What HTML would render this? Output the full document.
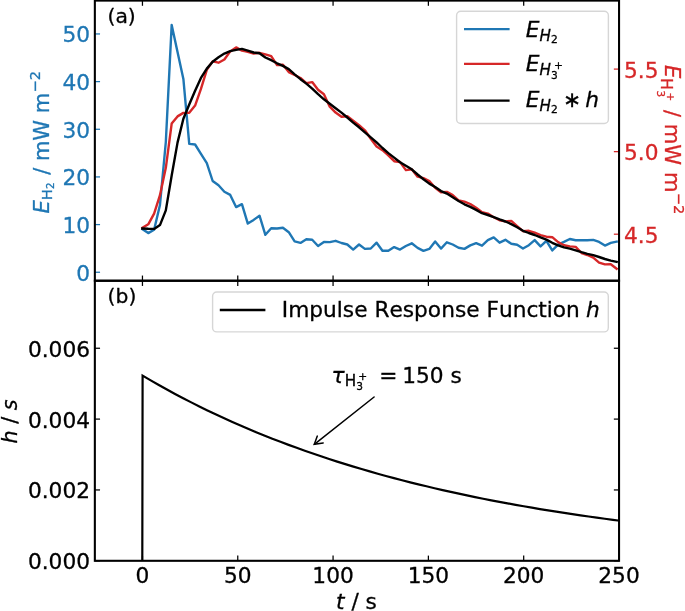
<!DOCTYPE html>
<html lang="en"><head><meta charset="utf-8"><title>Figure</title>
<style>html,body{margin:0;padding:0;background:#fff}body{width:685px;height:611px;overflow:hidden}</style></head>
<body>
<svg width="685" height="611" viewBox="0 0 685 611" style="display:block">
<defs><clipPath id="c1"><rect x="94.85" y="0.6" width="524.2" height="280.15"/></clipPath>
<clipPath id="c2"><rect x="94.85" y="280.75" width="524.2" height="280.05"/></clipPath></defs>
<rect width="685" height="611" fill="#fff"/>
<g clip-path="url(#c1)" fill="none" stroke-width="2.4" stroke-linejoin="round" stroke-linecap="square">
<polyline stroke="#1f77b4" points="142.4,229.1 148.25,233.1 154.11,229.8 159.97,205 165.82,142 171.68,24.9 177.53,51.9 183.38,78.9 189.24,143.9 195.1,144.5 200.95,153.8 206.81,163.1 212.66,181 218.52,185.3 224.37,191.7 230.23,194.9 236.08,207.1 241.94,204.2 247.79,223.6 253.65,219.9 259.5,215.7 265.36,234.8 271.21,228.2 277.07,228.5 282.92,227.7 288.77,232.2 294.63,241.4 300.49,242.9 306.34,239.3 312.2,239.8 318.05,246 323.91,242 329.76,242.1 335.62,240.8 341.47,243 347.33,244.5 353.18,249.6 359.04,244.5 364.89,248.9 370.75,248.5 376.6,242.7 382.46,250.8 388.31,250.8 394.17,247.1 400.02,249.6 405.88,246 411.73,243.3 417.59,247.9 423.44,250.8 429.3,248.9 435.15,241.5 441,248.6 446.86,242.3 452.72,244.5 458.57,247.7 464.43,248.9 470.28,245.4 476.13,243.2 481.99,245.7 487.85,240.1 493.7,237.4 499.56,242.7 505.41,239.8 511.26,243.8 517.12,244.8 522.98,248.5 528.83,245.2 534.69,240.1 540.54,246.4 546.39,240.8 552.25,250.4 558.11,244.6 563.96,241.9 569.82,239 575.67,240.2 581.53,240.3 587.38,240.3 593.24,239.9 599.09,241.9 604.95,245.6 610.8,242.9 616.66,241.6"/>
<polyline stroke="#d62728" points="142.4,227.8 148.25,224.3 154.11,213.6 159.97,195.2 165.82,167.8 171.68,123.6 177.53,116.4 183.38,112.9 189.24,112.7 195.1,105.6 200.95,88.9 206.81,69.8 212.66,61.4 218.52,62.7 224.37,59.5 230.23,51.4 236.08,47.4 241.94,50.6 247.79,51.8 253.65,53.6 259.5,52.8 265.36,54.3 271.21,56.2 277.07,65.1 282.92,64.7 288.77,72.1 294.63,75 300.49,78 306.34,83.1 312.2,82.1 318.05,89.8 323.91,94.2 329.76,106.7 335.62,112.6 341.47,116.7 347.33,116.3 353.18,120.7 359.04,125.1 364.89,130.3 370.75,138.8 376.6,146.5 382.46,150.2 388.31,155.3 394.17,161.2 400.02,162 405.88,170.1 411.73,169.3 417.59,176.7 423.44,178.2 429.3,181.1 435.15,187.7 441,192.2 446.86,191.9 452.72,195.1 458.57,200.3 464.43,201.7 470.28,204 476.13,207.7 481.99,212.1 487.85,213.6 493.7,217.2 499.56,220.2 505.41,221.4 511.26,220.9 517.12,226.1 522.98,231.2 528.83,230.8 534.69,232.7 540.54,235.2 546.39,236.7 552.25,237.2 558.11,242.1 563.96,245.2 569.82,246.4 575.67,246.9 581.53,253 587.38,255 593.24,257.6 599.09,262.6 604.95,264.4 610.8,264.2 616.66,268.7"/>
<polyline stroke="#000" points="142.4,228.5 148.25,228.8 154.11,228.9 159.97,225.1 165.82,210.4 171.68,175.5 177.53,142.6 183.38,118.8 189.24,104.5 195.1,90.8 200.95,77.9 206.81,68.6 212.66,61.7 218.52,57.2 224.37,53.6 230.23,51.1 236.08,49.9 241.94,48.9 247.79,50.6 253.65,52.5 259.5,53.3 265.36,57.5 271.21,60.2 277.07,63.3 282.92,65.9 288.77,69.1 294.63,74.3 300.49,79.2 306.34,83.6 312.2,88.6 318.05,94.2 323.91,99.3 329.76,103.8 335.62,108.2 341.47,112.6 347.33,117.5 353.18,122.6 359.04,127.3 364.89,132.3 370.75,137.3 376.6,142.4 382.46,148 388.31,153.1 394.17,157.6 400.02,162.3 405.88,165.7 411.73,169.3 417.59,174.5 423.44,179.2 429.3,183.6 435.15,187 441,191.1 446.86,193.6 452.72,197.3 458.57,201 464.43,204.3 470.28,206.9 476.13,209.9 481.99,213.2 487.85,215 493.7,217.1 499.56,219.4 505.41,221.5 511.26,224.1 517.12,227.3 522.98,230.8 528.83,233 534.69,235 540.54,237.4 546.39,239.6 552.25,242.8 558.11,245.4 563.96,247.4 569.82,248.6 575.67,250.3 581.53,252.2 587.38,253.8 593.24,255.2 599.09,257 604.95,259 610.8,260.6 616.66,261.9"/>
</g>
<g clip-path="url(#c2)" fill="none" stroke="#000" stroke-width="2.2" stroke-linejoin="miter" stroke-linecap="square">
<polyline points="142.3,560.8 142.6,375.6 150.71,380.36 158.82,384.99 166.93,389.51 175.04,393.91 183.15,398.19 191.26,402.37 199.37,406.44 207.47,410.4 215.58,414.27 223.69,418.03 231.8,421.7 239.91,425.27 248.02,428.75 256.13,432.14 264.24,435.45 272.35,438.67 280.46,441.8 288.57,444.86 296.68,447.84 304.79,450.74 312.9,453.56 321.01,456.32 329.11,459 337.22,461.62 345.33,464.16 353.44,466.65 361.55,469.06 369.66,471.42 377.77,473.72 385.88,475.95 393.99,478.13 402.1,480.26 410.21,482.32 418.32,484.34 426.43,486.3 434.54,488.22 442.64,490.08 450.75,491.9 458.86,493.67 466.97,495.39 475.08,497.07 483.19,498.71 491.3,500.3 499.41,501.86 507.52,503.37 515.63,504.85 523.74,506.28 531.85,507.68 539.96,509.05 548.07,510.38 556.18,511.67 564.28,512.93 572.39,514.16 580.5,515.36 588.61,516.53 596.72,517.66 604.83,518.77 612.94,519.85 621.05,520.9"/>
</g>
<line x1="142.45" y1="0.6" x2="142.45" y2="5.8" stroke="#000" stroke-width="1.25"/>
<line x1="142.45" y1="275.55" x2="142.45" y2="285.95" stroke="#000" stroke-width="1.25"/>
<line x1="142.45" y1="560.8" x2="142.45" y2="555.6" stroke="#000" stroke-width="1.25"/>
<line x1="237.76" y1="0.6" x2="237.76" y2="5.8" stroke="#000" stroke-width="1.25"/>
<line x1="237.76" y1="275.55" x2="237.76" y2="285.95" stroke="#000" stroke-width="1.25"/>
<line x1="237.76" y1="560.8" x2="237.76" y2="555.6" stroke="#000" stroke-width="1.25"/>
<line x1="333.07" y1="0.6" x2="333.07" y2="5.8" stroke="#000" stroke-width="1.25"/>
<line x1="333.07" y1="275.55" x2="333.07" y2="285.95" stroke="#000" stroke-width="1.25"/>
<line x1="333.07" y1="560.8" x2="333.07" y2="555.6" stroke="#000" stroke-width="1.25"/>
<line x1="428.38" y1="0.6" x2="428.38" y2="5.8" stroke="#000" stroke-width="1.25"/>
<line x1="428.38" y1="275.55" x2="428.38" y2="285.95" stroke="#000" stroke-width="1.25"/>
<line x1="428.38" y1="560.8" x2="428.38" y2="555.6" stroke="#000" stroke-width="1.25"/>
<line x1="523.69" y1="0.6" x2="523.69" y2="5.8" stroke="#000" stroke-width="1.25"/>
<line x1="523.69" y1="275.55" x2="523.69" y2="285.95" stroke="#000" stroke-width="1.25"/>
<line x1="523.69" y1="560.8" x2="523.69" y2="555.6" stroke="#000" stroke-width="1.25"/>
<line x1="619" y1="0.6" x2="619" y2="5.8" stroke="#000" stroke-width="1.25"/>
<line x1="619" y1="275.55" x2="619" y2="285.95" stroke="#000" stroke-width="1.25"/>
<line x1="619" y1="560.8" x2="619" y2="555.6" stroke="#000" stroke-width="1.25"/>
<line x1="94.85" y1="272.25" x2="100.05" y2="272.25" stroke="#1f77b4" stroke-width="1.25"/>
<line x1="94.85" y1="224.59" x2="100.05" y2="224.59" stroke="#1f77b4" stroke-width="1.25"/>
<line x1="94.85" y1="176.93" x2="100.05" y2="176.93" stroke="#1f77b4" stroke-width="1.25"/>
<line x1="94.85" y1="129.27" x2="100.05" y2="129.27" stroke="#1f77b4" stroke-width="1.25"/>
<line x1="94.85" y1="81.61" x2="100.05" y2="81.61" stroke="#1f77b4" stroke-width="1.25"/>
<line x1="94.85" y1="33.95" x2="100.05" y2="33.95" stroke="#1f77b4" stroke-width="1.25"/>
<line x1="619.05" y1="234.2" x2="613.85" y2="234.2" stroke="#d62728" stroke-width="1.25"/>
<line x1="619.05" y1="151.65" x2="613.85" y2="151.65" stroke="#d62728" stroke-width="1.25"/>
<line x1="619.05" y1="69.1" x2="613.85" y2="69.1" stroke="#d62728" stroke-width="1.25"/>
<line x1="94.85" y1="560.8" x2="100.05" y2="560.8" stroke="#000" stroke-width="1.25"/>
<line x1="619.05" y1="560.8" x2="613.85" y2="560.8" stroke="#000" stroke-width="1.25"/>
<line x1="94.85" y1="489.95" x2="100.05" y2="489.95" stroke="#000" stroke-width="1.25"/>
<line x1="619.05" y1="489.95" x2="613.85" y2="489.95" stroke="#000" stroke-width="1.25"/>
<line x1="94.85" y1="419.1" x2="100.05" y2="419.1" stroke="#000" stroke-width="1.25"/>
<line x1="619.05" y1="419.1" x2="613.85" y2="419.1" stroke="#000" stroke-width="1.25"/>
<line x1="94.85" y1="348.25" x2="100.05" y2="348.25" stroke="#000" stroke-width="1.25"/>
<line x1="619.05" y1="348.25" x2="613.85" y2="348.25" stroke="#000" stroke-width="1.25"/>
<g fill="none" stroke="#000" stroke-width="2.08" stroke-linecap="square">
<rect x="94.85" y="0.6" width="524.2" height="280.15"/>
<rect x="94.85" y="280.75" width="524.2" height="280.05"/>
</g>
<g font-family='"DejaVu Sans","Liberation Sans",sans-serif' font-size="21.7" style="font-kerning:none;font-variant-ligatures:none" fill="#000" stroke="#000" stroke-width="0.3">
<text x="90" y="280.65" text-anchor="end" fill="#1f77b4" stroke="#1f77b4">0</text>
<text x="90" y="232.99" text-anchor="end" fill="#1f77b4" stroke="#1f77b4">10</text>
<text x="90" y="185.33" text-anchor="end" fill="#1f77b4" stroke="#1f77b4">20</text>
<text x="90" y="137.67" text-anchor="end" fill="#1f77b4" stroke="#1f77b4">30</text>
<text x="90" y="90.01" text-anchor="end" fill="#1f77b4" stroke="#1f77b4">40</text>
<text x="90" y="42.35" text-anchor="end" fill="#1f77b4" stroke="#1f77b4">50</text>
<text x="624" y="242.8" text-anchor="start" fill="#d62728" stroke="#d62728">4.5</text>
<text x="624" y="160.25" text-anchor="start" fill="#d62728" stroke="#d62728">5.0</text>
<text x="624" y="77.7" text-anchor="start" fill="#d62728" stroke="#d62728">5.5</text>
<text x="90" y="569.2" text-anchor="end">0.000</text>
<text x="90" y="498.35" text-anchor="end">0.002</text>
<text x="90" y="427.5" text-anchor="end">0.004</text>
<text x="90" y="356.65" text-anchor="end">0.006</text>
<text x="142.45" y="582.8" text-anchor="middle">0</text>
<text x="237.76" y="582.8" text-anchor="middle">50</text>
<text x="333.07" y="582.8" text-anchor="middle">100</text>
<text x="428.38" y="582.8" text-anchor="middle">150</text>
<text x="523.69" y="582.8" text-anchor="middle">200</text>
<text x="619" y="582.8" text-anchor="middle">250</text>
<text x="107.5" y="22.8" text-anchor="start" font-size="20.3">(a)</text>
<text x="107.6" y="302.9" text-anchor="start" font-size="20.3">(b)</text>
<text transform="translate(48.5 213.5) rotate(-90)" fill="#1f77b4" stroke="#1f77b4"><tspan x="0" y="0" font-size="21" font-style="oblique">E</tspan><tspan x="13.27" y="3.45" font-size="14.7">H</tspan><tspan x="24.46" y="5.86" font-size="10.29">2</tspan><tspan x="31.99" y="0" font-size="21">&#160;/&#160;mW&#160;m</tspan><tspan x="120.96" y="-8.04" font-size="14.7">−2</tspan></text>
<text transform="translate(664.9 65) rotate(90)" fill="#d62728" stroke="#d62728"><tspan x="0" y="0" font-size="21.1" font-style="oblique">E</tspan><tspan x="13.33" y="3.46" font-size="15.4">H</tspan><tspan x="25.43" y="7.5" font-size="10.34">3</tspan><tspan x="27.43" y="-2.19" font-size="10.34">+</tspan><tspan x="38.25" y="0" font-size="21.1">&#160;/&#160;mW&#160;m</tspan><tspan x="127.65" y="-8.65" font-size="14.77">−2</tspan></text>
<text transform="translate(336 609.2)"><tspan x="0" y="0" font-style="oblique">t</tspan><tspan x="8.51" y="0">&#160;/&#160;s</tspan></text>
<text transform="translate(16.8 443.4) rotate(-90)"><tspan x="0" y="0" font-size="20.7" font-style="oblique">h</tspan><tspan x="13.12" y="0" font-size="20.7">&#160;/&#160;</tspan><tspan x="33.25" y="0" font-size="20.7" font-style="oblique">s</tspan></text>
<text transform="translate(331.6 382.7)"><tspan x="0" y="0" font-style="oblique">τ</tspan><tspan x="13.06" y="3.56" font-size="15.19">H</tspan><tspan x="24.63" y="7.71" font-size="10.63">3</tspan><tspan x="26.7" y="-2.25" font-size="10.63">+</tspan><tspan x="47.74" y="0">=</tspan><tspan x="70.67" y="0">150&#160;s</tspan></text>
</g>
<rect x="456.6" y="11.3" width="151.8" height="112.2" rx="4.2" ry="4.2" fill="#fff" fill-opacity="0.8" stroke="#cccccc" stroke-opacity="0.8" stroke-width="1.4"/>
<line x1="464" y1="29.1" x2="509.6" y2="29.1" stroke="#1f77b4" stroke-width="2.3"/>
<line x1="464" y1="63.8" x2="509.6" y2="63.8" stroke="#d62728" stroke-width="2.3"/>
<line x1="464" y1="100.6" x2="509.6" y2="100.6" stroke="#000" stroke-width="2.3"/>
<rect x="212.6" y="292.05" width="395.7" height="39.85" rx="4.2" ry="4.2" fill="#fff" fill-opacity="0.8" stroke="#cccccc" stroke-opacity="0.8" stroke-width="1.4"/>
<line x1="219.8" y1="310" x2="265.4" y2="310" stroke="#000" stroke-width="2.3"/>
<g font-family='"DejaVu Sans","Liberation Sans",sans-serif' font-size="21.7" style="font-kerning:none;font-variant-ligatures:none" fill="#000" stroke="#000" stroke-width="0.3">
<text transform="translate(525.8 37)"><tspan x="0" y="0" font-style="oblique">E</tspan><tspan x="13.71" y="3.56" font-size="15.19" font-style="oblique">H</tspan><tspan x="25.13" y="6.05" font-size="10.63">2</tspan></text>
<text transform="translate(525.8 71.3)"><tspan x="0" y="0" font-style="oblique">E</tspan><tspan x="13.71" y="3.56" font-size="15.19" font-style="oblique">H</tspan><tspan x="25.13" y="7.71" font-size="10.63">3</tspan><tspan x="28.27" y="-2.25" font-size="10.63">+</tspan></text>
<text transform="translate(525.8 107.2)"><tspan x="0" y="0" font-style="oblique">E</tspan><tspan x="13.71" y="3.56" font-size="15.19" font-style="oblique">H</tspan><tspan x="25.13" y="6.05" font-size="10.63">2</tspan><tspan x="37.14" y="0">∗</tspan><tspan x="59.54" y="0" font-style="oblique">h</tspan></text>
<text transform="translate(281.8 316.6)"><tspan x="0" y="0">Impulse Response Function&#160;</tspan><tspan x="304.31" y="0" font-style="oblique">h</tspan></text>
</g>
<g fill="none" stroke="#000" stroke-width="1.5" stroke-linecap="round" stroke-linejoin="miter">
<path d="M374.1 397L314.3 444.3"/><path d="M317.3 436.1L314.3 444.3L323.2 442.9"/>
</g>
</svg>
</body></html>
